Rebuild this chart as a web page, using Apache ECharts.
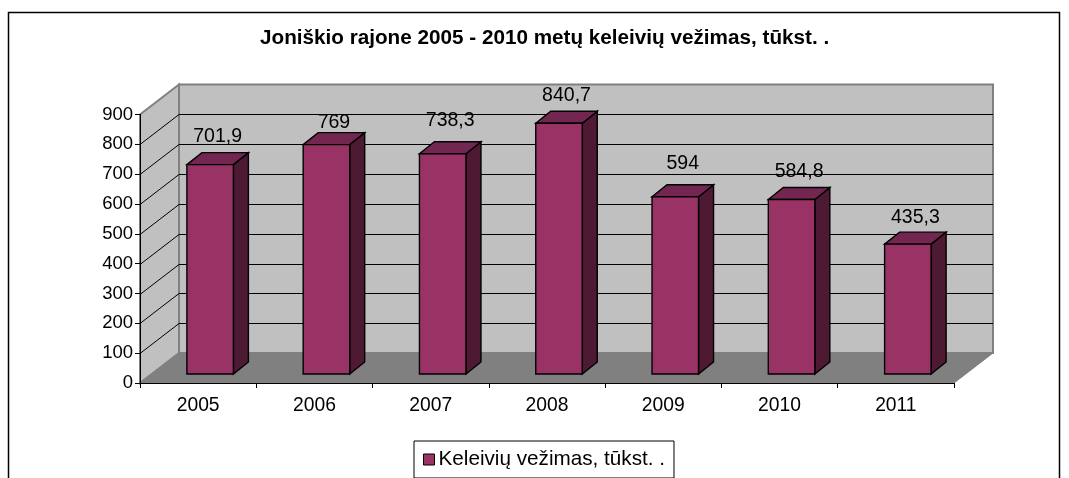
<!DOCTYPE html>
<html><head><meta charset="utf-8">
<style>html,body{margin:0;padding:0;background:#fff}#c{width:1069px;height:478px}</style>
<script src="https://cdn.jsdelivr.net/npm/echarts@6/dist/echarts.min.js"></script>
</head><body><div id="c"></div>
<script>
const years = ['2005','2006','2007','2008','2009','2010','2011'];
const passengers = [701.9,769,738.3,840.7,594,584.8,435.3];
const valueLabels = ['701,9','769','738,3','840,7','594','584,8','435,3'];
const labelLift = [16,10,21,16,21,16,15];
const gridTicks = [100,200,300,400,500,600,700,800,900];
const titleText = 'Joniškio rajone 2005 - 2010 metų keleivių vežimas, tūkst. .';
const seriesName = 'Keleivių vežimas, tūkst. .';

const FONT = '"Liberation Sans", Arial, sans-serif';
const DX = 39, DY = 30;           // oblique depth of the chart box
const BX = 15, BY = 12;           // oblique depth of one bar
const SX = 12, SY = 9;            // bar placement inside the box
const FRONT = '#993366', SIDE = '#4d1933', TOP = '#732650', EDGE = '#000';

function poly(points, fill, stroke, lineWidth) {
  return {type:'polygon', shape:{points}, style:{fill, stroke: stroke || null, lineWidth: lineWidth || 0}};
}
function renderBox(params, api) {
  const o = api.coord([0,0]), band = api.size([1,0])[0];
  const x0 = o[0] - band/2, x1 = x0 + band*years.length, y0 = o[1], yT = api.coord([0,900])[1];
  const wall = '#c0c0c0', floor = '#808080', rim = '#808080';
  const children = [
    poly([[x0+DX,yT-DY],[x1+DX,yT-DY],[x1+DX,y0-DY],[x0+DX,y0-DY]], wall, rim, 2),
    poly([[x0,yT],[x0+DX,yT-DY],[x0+DX,y0-DY],[x0,y0]], wall, rim, 2),
    poly([[x0,y0],[x0+DX,y0-DY],[x1+DX,y0-DY],[x1,y0]], floor, rim, 1)
  ];
  gridTicks.forEach(t => {
    if (t === 900) return;          // the 900 level is the grey rim of the box
    const y = Math.round(api.coord([0,t])[1]) + 0.5;
    const lineStyle = {stroke:'#000', lineWidth:1};
    children.push({type:'polyline', shape:{points:[[x0,y],[x0+DX,y-DY]]}, style:Object.assign({fill:null},lineStyle)});
    children.push({type:'line', shape:{x1:x0+DX,y1:y-DY,x2:x1+DX,y2:y-DY}, style:lineStyle});
  });
  return {type:'group', children};
}
function renderBar(params, api) {
  const i = api.value(0), v = api.value(1);
  const top = api.coord([i,v]), base = api.coord([i,0]);
  const w = api.size([1,0])[0]*0.4;
  const l = top[0]-w/2+SX, r = l+w, t = top[1]-SY, b = base[1]-SY;
  const border = {stroke:EDGE, lineWidth:1.4, lineJoin:'miter'};
  const face = (pts, fill) => ({type:'polygon', shape:{points:pts}, style:Object.assign({fill},border)});
  return {type:'group', children:[
    face([[r,t],[r+BX,t-BY],[r+BX,b-BY],[r,b]], SIDE),
    face([[l,t],[l+BX,t-BY],[r+BX,t-BY],[r,t]], TOP),
    face([[l,t],[r,t],[r,b],[l,b]], FRONT),
    {type:'text', style:{text:valueLabels[i], x:(l+r)/2+7.5, y:t-BY-labelLift[params.dataIndex],
      fill:'#000', font:'19.5px '+FONT, align:'center', verticalAlign:'middle'}, z2:10}
  ]};
}
const chart = echarts.init(document.getElementById('c'), null, {renderer:'canvas'});
chart.setOption({
  animation:false,
  backgroundColor:'#fff',
  title:{text:titleText, left:260, top:27.5, padding:0,
    textStyle:{fontFamily:FONT, fontSize:20.7, fontWeight:'bold', color:'#000'}},
  legend:{data:[seriesName], left:414, top:441, orient:'horizontal', padding:[8,9,8,9],
    backgroundColor:'#fff', borderColor:'#000', borderWidth:1, borderRadius:0,
    icon:'rect', itemWidth:11, itemHeight:11, itemGap:0,
    textStyle:{fontFamily:FONT, fontSize:20.7, color:'#000', padding:[0,0,0,-1]},
    itemStyle:{color:FRONT, borderColor:'#000', borderWidth:1}},
  grid:{left:140, right:115, top:114.5, bottom:95, containLabel:false},
  xAxis:{type:'category', data:years, z:5,
    axisLine:{lineStyle:{color:'#000',width:1}}, axisTick:{show:true,length:5,lineStyle:{color:'#000'}},
    axisLabel:{fontFamily:FONT, fontSize:19.3, color:'#000', margin:13},
    splitLine:{show:false}},
  yAxis:{type:'value', min:0, max:900, interval:100, z:5,
    axisLine:{show:true,lineStyle:{color:'#000',width:1}}, axisTick:{show:true,length:5,lineStyle:{color:'#000'}},
    axisLabel:{fontFamily:FONT, fontSize:18.5, color:'#000', margin:7},
    splitLine:{show:false}},
  series:[
    {type:'custom', name:'box', silent:true, z:1, clip:false, renderItem:renderBox,
      encode:{x:0,y:1}, data:[[0,0]]},
    {type:'custom', name:seriesName, z:3, clip:false, renderItem:renderBar,
      itemStyle:{color:FRONT}, encode:{x:0,y:1},
      data:passengers.map((v,i)=>[i,v])}
  ],
  graphic:[{type:'polyline', silent:true, z:20,
    shape:{points:[[8.5,478],[8.5,12.5],[1059.5,12.5],[1059.5,478]]},
    style:{fill:null, stroke:'#000', lineWidth:1.5}}]
});
</script></body></html>
